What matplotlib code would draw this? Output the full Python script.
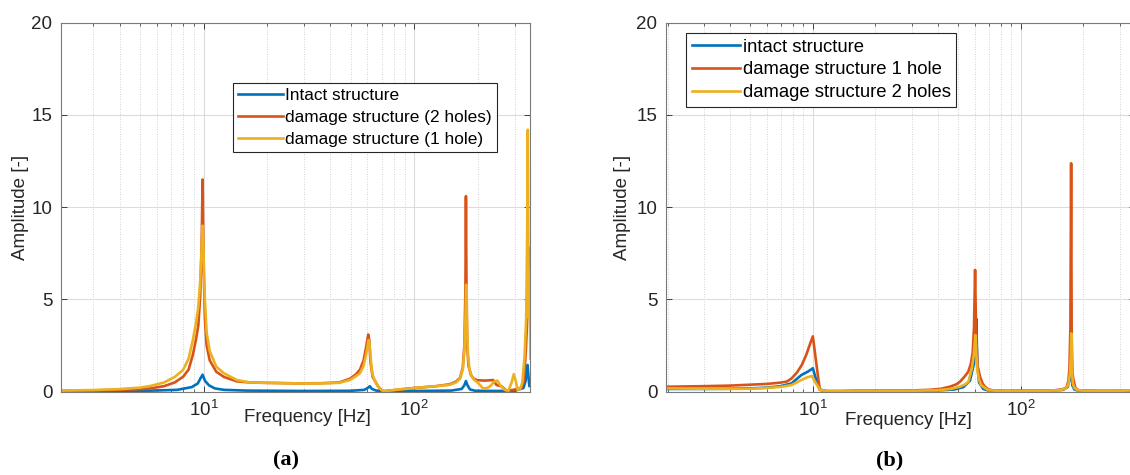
import matplotlib
matplotlib.use("Agg")
import matplotlib.pyplot as plt
from matplotlib.ticker import LogLocator, NullFormatter, FixedLocator

plt.rcParams['font.family'] = ['Liberation Sans', 'DejaVu Sans']
plt.rcParams['mathtext.fontset'] = 'custom'
plt.rcParams['mathtext.rm'] = 'Liberation Sans'
plt.rcParams['mathtext.it'] = 'Liberation Sans:italic'
plt.rcParams['mathtext.bf'] = 'Liberation Sans:bold'

# ---------------- Panel (a) data ----------------
a_f_intact = [2.1, 5, 7.5, 8.8, 9.4, 9.7, 9.9, 10.15, 10.6, 11.3, 12.5, 16, 30, 50, 58, 60.5, 61.5, 63, 66, 72,
              100, 150, 168, 173, 176, 179, 184, 195, 250, 300, 330, 338, 342, 345, 348, 352, 356]
a_intact = [0.02, 0.04, 0.1, 0.25, 0.45, 0.75, 0.92, 0.6, 0.35, 0.18, 0.1, 0.06, 0.04, 0.05, 0.1, 0.22, 0.3, 0.15, 0.06, 0.03,
            0.04, 0.06, 0.15, 0.35, 0.58, 0.35, 0.12, 0.05, 0.04, 0.05, 0.2, 0.6, 1.2, 1.45, 0.9, 0.3, 0.35]

a_f_dmg2 = [2.1, 3, 4, 5, 5.6, 6.5, 7.3, 8.0, 8.5, 8.9, 9.2, 9.45, 9.65, 9.8, 9.9, 10.0, 10.15, 10.35, 10.7, 11.5,
            12.5, 14.4, 16.6, 20, 28, 36, 44, 49.5, 53, 55.3, 57.5, 59.3, 60.5, 61.2, 62, 63.5, 65, 67.3, 69.5, 71.5,
            75, 85, 100, 127, 147, 158, 165, 170, 173, 175, 176, 177, 178.5, 181, 186, 191, 198, 215, 237, 246,
            259, 275, 295, 310, 322, 332, 339, 344, 348, 352, 356]
a_dmg2 = [0.05, 0.07, 0.1, 0.14, 0.18, 0.3, 0.5, 0.81, 1.2, 2.0, 2.8, 3.6, 5.2, 8.0, 11.5, 7.0, 4.0, 2.5, 1.7, 1.08,
          0.8, 0.56, 0.5, 0.48, 0.45, 0.46, 0.5, 0.7, 0.95, 1.2, 1.7, 2.5, 3.1, 2.8, 1.6, 0.8, 0.6, 0.3, 0.12, 0.02,
          0.05, 0.12, 0.2, 0.3, 0.4, 0.55, 0.75, 1.3, 2.5, 5.5, 10.6, 6.0, 2.5, 1.4, 0.9, 0.72, 0.63, 0.6, 0.63, 0.36,
          0.3, 0.05, 0.1, 0.15, 0.2, 0.6, 2.3, 4.0, 6.5, 7.8, 7.8]

a_f_dmg1 = [2.1, 3, 4, 5, 5.6, 6.5, 7.3, 8.0, 8.5, 8.9, 9.2, 9.45, 9.65, 9.8, 9.9, 10.0, 10.15, 10.35, 10.7, 11.5,
            12.5, 14.4, 16.6, 20, 28, 36, 44, 49.5, 53, 55.3, 57.5, 59.3, 60.8, 61.6, 62.5, 63.5, 65, 67.3, 69.5, 71.5,
            75, 85, 100, 127, 147, 158, 165, 170, 173, 175, 176.5, 178, 180, 183, 188, 193, 200, 212, 222, 230,
            240, 248, 256, 269, 280, 290, 297, 303, 310, 318, 326, 334, 340, 344, 346, 348, 350, 353, 356]
a_dmg1 = [0.06, 0.09, 0.14, 0.22, 0.31, 0.5, 0.8, 1.18, 1.8, 2.8, 3.7, 4.6, 6.0, 7.8, 9.0, 7.5, 5.0, 3.2, 2.2, 1.36,
          1.0, 0.63, 0.5, 0.48, 0.45, 0.45, 0.48, 0.63, 0.85, 1.0, 1.4, 2.1, 2.8, 2.4, 1.5, 0.9, 0.6, 0.3, 0.12, 0.02,
          0.05, 0.12, 0.2, 0.3, 0.37, 0.5, 0.7, 1.2, 2.2, 4.0, 5.8, 3.5, 2.0, 1.2, 0.8, 0.63, 0.5, 0.18, 0.2, 0.31,
          0.55, 0.6, 0.35, 0.1, 0.05, 0.5, 0.95, 0.6, 0.1, 0.15, 0.5, 1.9, 4.0, 9.0, 14.2, 8.0, 4.0, 6.0, 1.8]

# ---------------- Panel (b) data ----------------
b_f_intact = [2, 3, 4, 5, 6, 7, 7.9, 8.8, 9.5, 10.0, 10.4, 10.8, 11.6, 14, 20, 30, 40, 48, 53, 57, 59.5, 60.5,
              61.1, 61.8, 63, 66, 70, 80, 100, 130, 160, 168, 172, 174, 174.7, 175.5, 177, 181, 190, 220, 300, 360]
b_intact = [0.15, 0.15, 0.16, 0.18, 0.22, 0.3, 0.45, 0.9, 1.1, 1.27, 0.6, 0.12, 0.03, 0.03, 0.05, 0.05, 0.07, 0.12,
            0.25, 0.6, 1.5, 2.5, 3.95, 1.5, 0.5, 0.15, 0.06, 0.04, 0.04, 0.05, 0.1, 0.25, 0.7, 1.6, 2.9, 1.0, 0.35,
            0.12, 0.05, 0.04, 0.04, 0.05]

b_f_dmg1 = [2, 3, 4, 5, 6, 6.95, 7.5, 7.9, 8.4, 8.85, 9.3, 9.7, 10.0, 10.4, 10.8, 11.6, 13, 16, 20, 25, 30, 36, 41,
            45.6, 49, 51, 53.5, 55.9, 57.5, 58.7, 59.6, 60.3, 61, 62, 63.7, 65.5, 67.3, 70, 75, 85, 100, 120, 140,
            155, 163, 166.6, 169.5, 171.5, 173.3, 174.7, 175.8, 177.3, 179.3, 183, 190, 210, 250, 300, 360]
b_dmg1 = [0.27, 0.3, 0.33, 0.38, 0.42, 0.49, 0.55, 0.72, 1.05, 1.45, 2.0, 2.6, 3.0, 1.5, 0.1, 0.03, 0.03, 0.05, 0.04,
          0.05, 0.07, 0.1, 0.15, 0.27, 0.4, 0.54, 0.8, 1.08, 1.5, 2.1, 3.5, 6.6, 3.2, 1.4, 0.81, 0.45, 0.27, 0.12,
          0.06, 0.04, 0.05, 0.04, 0.06, 0.1, 0.18, 0.27, 0.6, 1.26, 3.5, 12.38, 3.0, 1.0, 0.65, 0.2, 0.08, 0.05,
          0.04, 0.05, 0.05]

b_f_dmg2 = [2, 3, 4, 5, 6, 7, 7.9, 8.8, 9.4, 9.9, 10.3, 10.8, 11.6, 14, 20, 30, 40, 46, 51, 54, 56, 58.2, 59.5, 60.5,
            61, 61.8, 63, 64.5, 67.3, 70, 80, 100, 130, 155, 165, 169.5, 172.5, 174.2, 175, 176, 178, 181, 188, 210,
            300, 360]
b_dmg2 = [0.18, 0.16, 0.15, 0.16, 0.2, 0.26, 0.36, 0.63, 0.78, 0.85, 0.5, 0.1, 0.03, 0.03, 0.04, 0.05, 0.08, 0.15,
          0.27, 0.4, 0.54, 1.26, 2.0, 3.07, 2.2, 1.2, 0.65, 0.35, 0.2, 0.08, 0.04, 0.04, 0.05, 0.08, 0.18, 0.4, 1.0,
          2.0, 3.16, 1.2, 0.45, 0.2, 0.08, 0.04, 0.05, 0.08]

labels_a = ["Intact structure", "damage structure (2 holes)", "damage structure (1 hole)"]
labels_b = ["intact structure", "damage structure 1 hole", "damage structure 2 holes"]

C_BLUE = "#0072BD"
C_RED = "#D95319"
C_YEL = "#EDB120"
TXT = "#262626"
FS = 13.5

W, H = 1130, 475
fig = plt.figure(figsize=(W / 100, H / 100), dpi=100)
fig.patch.set_facecolor("white")

axw = 469.7 / W
axh = 369.0 / H
bottom = 1 - 391.7 / H
ax_a = fig.add_axes([60.7 / W, bottom, axw, axh])
ax_b = fig.add_axes([665.7 / W, bottom, axw, axh])

def style(ax, xlim):
    ax.set_xscale("log")
    ax.set_xlim(*xlim)
    ax.set_ylim(0, 20)
    ax.set_yticks([0, 5, 10, 15, 20])
    ax.xaxis.set_major_locator(FixedLocator([10, 100]))
    ax.xaxis.set_minor_locator(LogLocator(base=10, subs=range(2, 10)))
    ax.xaxis.set_minor_formatter(NullFormatter())
    ax.grid(True, which="major", color="#dcdcdc", linewidth=0.8, linestyle="-")
    ax.grid(True, which="minor", axis="x", color="#c4c4c4", linewidth=0.6, linestyle=(0, (1, 2)))
    ax.set_axisbelow(True)
    ax.tick_params(which="both", direction="in", top=True, right=True, colors=TXT, labelsize=FS)
    ax.tick_params(which="major", length=4, width=0.6, pad=6)
    ax.tick_params(which="minor", length=2.5, width=0.5)
    for s in ax.spines.values():
        s.set_color("#7a7a7a")
        s.set_linewidth(0.8)
    ax.set_ylabel("Amplitude [-]", fontsize=FS, color=TXT)
    ax.set_xlabel("Frequency [Hz]", fontsize=FS, color=TXT)

def legend(ax, labels, anchor, fs, spacing):
    leg = ax.legend(labels, loc="upper left", bbox_to_anchor=anchor, borderaxespad=0, fontsize=fs,
                    handlelength=2.6, handletextpad=0.15, labelspacing=spacing, borderpad=0.3,
                    fancybox=False, framealpha=1, edgecolor=TXT)
    leg.get_frame().set_linewidth(0.8)

lw = 1.9
# panel a
ax_a.plot(a_f_intact, a_intact, color=C_BLUE, lw=lw)
ax_a.plot(a_f_dmg2, a_dmg2, color=C_RED, lw=lw)
ax_a.plot(a_f_dmg1, a_dmg1, color=C_YEL, lw=lw)
style(ax_a, (2.1, 356))
ax_a.xaxis.set_label_coords(0.526, -0.046)
ax_a.yaxis.set_label_coords(-0.068, 0.5)
legend(ax_a, labels_a, (0.3666, 0.836), 12.4, 0.4)

# panel b
ax_b.plot(b_f_intact, b_intact, color=C_BLUE, lw=lw)
ax_b.plot(b_f_dmg1, b_dmg1, color=C_RED, lw=lw)
ax_b.plot(b_f_dmg2, b_dmg2, color=C_YEL, lw=lw)
style(ax_b, (1.96, 356))
ax_b.xaxis.set_label_coords(0.5165, -0.054)
ax_b.yaxis.set_label_coords(-0.074, 0.5)
legend(ax_b, labels_b, (0.044, 0.971), 13.3, 0.3)

# panel captions
fig.text(285.7 / W, 1 - 460 / H, "(a)", ha="center", va="center", fontsize=16,
         family="Liberation Serif", weight="bold", color="black")
fig.text(889.6 / W, 1 - 460 / H, "(b)", ha="center", va="center", fontsize=16,
         family="Liberation Serif", weight="bold", color="black")

fig.savefig("out.png", dpi=100, facecolor="white")
